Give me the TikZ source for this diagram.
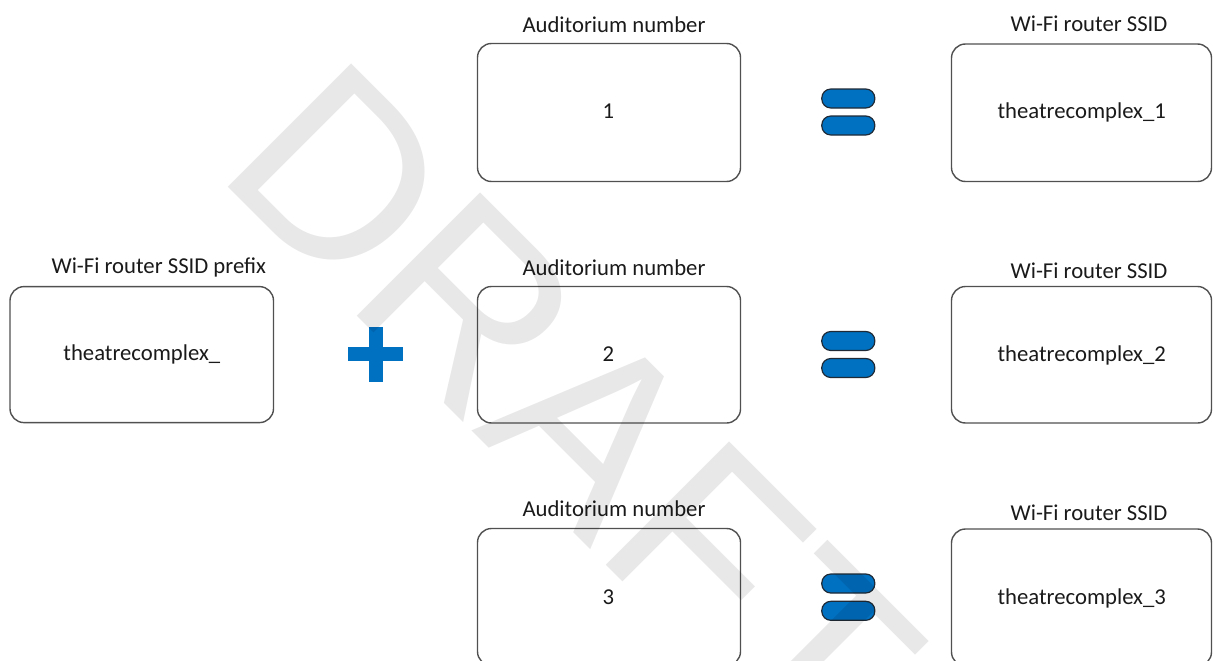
\documentclass[tikz,border=0pt]{standalone}
\usepackage{fontspec}
\setmainfont{Carlito}
\newfontfamily\wmfont{Liberation Sans}
\definecolor{boxline}{HTML}{505050}
\definecolor{opblue}{HTML}{0070C0}
\definecolor{pillline}{HTML}{1F2A36}
\definecolor{txt}{HTML}{1A1A1A}
\begin{document}
\begin{tikzpicture}[x=1pt,y=-1pt,
  card/.style={draw=boxline, line width=1.4pt, rounded corners=14pt, inner sep=0pt, fill=none},
  lbl/.style={font=\fontsize{22.7}{26}\selectfont, anchor=base, inner sep=0pt, text=txt},
  pill/.style={fill=opblue, draw=pillline, line width=1.2pt, rounded corners=9pt, inner sep=0pt, minimum width=53pt, minimum height=19pt},
  wm/.style={font=\wmfont\fontsize{253.5}{253.5}\selectfont, text=black, text opacity=0.09, inner sep=0pt}
]
\path[use as bounding box] (0,0) rectangle (1213,661);
\clip (0,0) rectangle (1213,661);

% left box
\node[card, minimum width=263.5pt, minimum height=136pt] (pbox) at (141.75,354.6) {};
\node[lbl] (plbl) at (158.8,273) {Wi-Fi router SSID prefix};
\node[lbl] (pval) at (141.8,360.5) {theatrecomplex\_};

% plus sign
\fill[opblue] (347.7,346.9) rectangle (403,361.1);
\fill[opblue] (369,327) rectangle (383,382);

% middle column
\node[card, minimum width=263pt, minimum height=138pt] (a1) at (609,112.5) {};
\node[card, minimum width=263pt, minimum height=136.5pt] (a2) at (609,354.75) {};
\node[card, minimum width=263pt, minimum height=137pt] (a3) at (609,597) {};
\node[lbl] (a1l) at (614,32.3) {Auditorium number};
\node[lbl] (a2l) at (614,275) {Auditorium number};
\node[lbl] (a3l) at (614,516.7) {Auditorium number};
\node[lbl] (a1v) at (608.3,118) {1};
\node[lbl] (a2v) at (608.3,361) {2};
\node[lbl] (a3v) at (608.3,604) {3};

% equals signs
\node[pill] (e1a) at (848.3,98.5) {};
\node[pill] (e1b) at (848.3,125.5) {};
\node[pill] (e2a) at (848.3,341) {};
\node[pill] (e2b) at (848.3,368) {};
\node[pill] (e3a) at (848.3,583.5) {};
\node[pill] (e3b) at (848.3,610.8) {};

% right column
\node[card, minimum width=260pt, minimum height=137.5pt] (s1) at (1081.5,112.75) {};
\node[card, minimum width=260pt, minimum height=136.5pt] (s2) at (1081.5,354.75) {};
\node[card, minimum width=260pt, minimum height=137pt] (s3) at (1081.5,597.5) {};
\node[lbl] (s1l) at (1089,31.5) {Wi-Fi router SSID};
\node[lbl] (s2l) at (1089,278.5) {Wi-Fi router SSID};
\node[lbl] (s3l) at (1089,520) {Wi-Fi router SSID};
\node[lbl] (s1v) at (1081.7,118) {theatrecomplex\_1};
\node[lbl] (s2v) at (1081.7,361) {theatrecomplex\_2};
\node[lbl] (s3v) at (1081.7,604) {theatrecomplex\_3};

% watermark
\node[wm, rotate=-45, anchor=base west] (draft) at (212.9,171.9) {DRAFT};
\end{tikzpicture}
\end{document}
